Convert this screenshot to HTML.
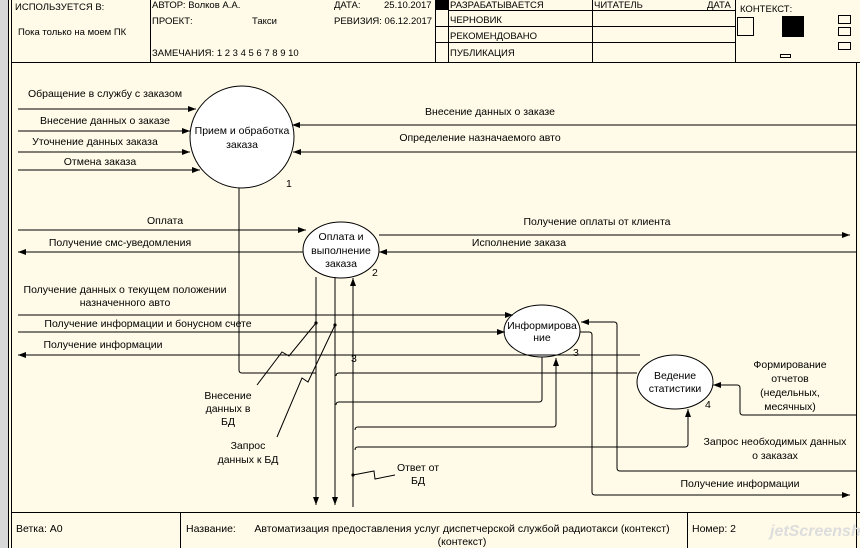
<!DOCTYPE html>
<html><head><meta charset="utf-8"><style>
body{margin:0;width:860px;height:548px;overflow:hidden;background:#fffbe8}
svg{display:block}
text{font-family:"Liberation Sans","DejaVu Sans",sans-serif;font-size:10.5px;fill:#000}
.h{font-size:9.5px}
</style></head><body>
<svg width="860" height="548" viewBox="0 0 860 548">
<defs>
<marker id="a" markerWidth="8" markerHeight="6" refX="8" refY="3" orient="auto" markerUnits="userSpaceOnUse"><path d="M0,0 L8,3 L0,6z" fill="#000"/></marker>
</defs>
<rect x="0" y="0" width="8" height="548" fill="#d8d8d8"/>
<rect x="8" y="0" width="852" height="548" fill="#fffbe8"/>
<g stroke="#000" fill="none" stroke-width="1">
<line x1="8.5" y1="0" x2="8.5" y2="548"/><line x1="11.5" y1="0" x2="11.5" y2="548"/>
<line x1="856.5" y1="62" x2="856.5" y2="548"/>
<line x1="11" y1="62.5" x2="860" y2="62.5"/>
<line x1="150.5" y1="0" x2="150.5" y2="62"/>
<line x1="435.5" y1="0" x2="435.5" y2="62"/>
<line x1="448.5" y1="0" x2="448.5" y2="62"/>
<line x1="592.5" y1="0" x2="592.5" y2="62"/>
<line x1="735.5" y1="0" x2="735.5" y2="62"/>
<line x1="448" y1="10.5" x2="735" y2="10.5"/>
<line x1="435" y1="26.5" x2="735" y2="26.5"/>
<line x1="435" y1="42.5" x2="735" y2="42.5"/>
<rect x="737.5" y="17.5" width="16" height="18"/>
<rect x="838.5" y="15.5" width="12" height="8"/><rect x="838.5" y="27.5" width="12" height="8"/><rect x="838.5" y="42.5" width="12" height="7"/>
<rect x="780.5" y="54.5" width="10" height="3"/>
<line x1="11" y1="512.5" x2="860" y2="512.5"/>
<line x1="180.5" y1="512" x2="180.5" y2="548"/>
<line x1="687.5" y1="512" x2="687.5" y2="548"/>
</g>
<rect x="435" y="0" width="13" height="10" fill="#000"/>
<rect x="782" y="16" width="22" height="21" fill="#000"/>
<g class="h">
<text x="15" y="10" class="h">ИСПОЛЬЗУЕТСЯ В:</text>
<text x="18" y="35" class="h">Пока только на моем ПК</text>
<text x="152" y="8" class="h">АВТОР: Волков А.А.</text>
<text x="334" y="8" class="h">ДАТА:</text><text x="384" y="8" class="h">25.10.2017</text>
<text x="152" y="24" class="h">ПРОЕКТ:</text><text x="252" y="24" class="h">Такси</text>
<text x="334" y="24" class="h">РЕВИЗИЯ: 06.12.2017</text>
<text x="152" y="56" class="h">ЗАМЕЧАНИЯ:  1 2 3 4 5 6 7 8 9 10</text>
<text x="450" y="8" class="h">РАЗРАБАТЫВАЕТСЯ</text>
<text x="450" y="23" class="h">ЧЕРНОВИК</text>
<text x="450" y="39" class="h">РЕКОМЕНДОВАНО</text>
<text x="450" y="56" class="h">ПУБЛИКАЦИЯ</text>
<text x="594" y="8" class="h">ЧИТАТЕЛЬ</text><text x="707" y="8" class="h">ДАТА</text>
<text x="740" y="12" class="h">КОНТЕКСТ:</text>
</g>
<g stroke="#000" fill="#fff">
<ellipse cx="242" cy="137" rx="52" ry="51"/>
<ellipse cx="341" cy="250" rx="38" ry="28"/>
<ellipse cx="542" cy="331" rx="38" ry="26"/>
<ellipse cx="675" cy="382" rx="38" ry="27"/>
</g>
<g stroke="#000" fill="none" marker-end="url(#a)">
<line x1="18" y1="109" x2="196" y2="109"/>
<line x1="18" y1="131" x2="190" y2="131"/>
<line x1="18" y1="152" x2="190" y2="152"/>
<line x1="18" y1="170" x2="200" y2="170"/>
<line x1="856" y1="125" x2="292" y2="125"/>
<line x1="856" y1="152" x2="293" y2="152"/>
<line x1="18" y1="230" x2="306" y2="230"/>
<line x1="303" y1="252" x2="18" y2="252"/>
<line x1="379" y1="235" x2="850" y2="235"/>
<line x1="856" y1="252" x2="379" y2="252"/>
<line x1="18" y1="315" x2="513" y2="315"/>
<line x1="18" y1="332" x2="505" y2="332"/>
<line x1="640" y1="355" x2="18" y2="355"/>
<line x1="316" y1="277" x2="316" y2="505"/>
<line x1="335" y1="277" x2="335" y2="505"/>
<line x1="353" y1="507" x2="353" y2="278"/>
<path d="M355 430 Q355 427 358 427 H553 Q556 427 556 424 V358"/>
<path d="M355 450 Q355 447 358 447 H685 Q688 447 688 444 V409"/>
<path d="M856 415 H743 Q740 415 740 412 V388 Q740 385 737 385 H713"/>
<path d="M856 471 H620 Q617 471 617 468 V325 Q617 322 614 322 H581"/>
<path d="M580 332 H589 Q592 332 592 335 V492 Q592 495 595 495 H850"/>
</g>
<g stroke="#000" fill="none">
<path d="M239 188 V370 Q239 373 242 373 H316"/>
<path d="M542 357 V399 Q542 402 539 402 H339 Q336 402 336 405"/>
<path d="M336 376 Q336 373 339 373 H637"/>
<path d="M257 385 L282 352 L289 356 L316 323"/>
<path d="M277 437 L302 378 L308 382 L335 325"/>
<path d="M353 475 L374 471 L375 479 L395 475"/>
</g>
<g fill="#000"><circle cx="316" cy="323" r="1.6"/><circle cx="335" cy="325" r="1.6"/><circle cx="353" cy="475" r="1.6"/></g>
<g text-anchor="middle">
<text x="105" y="97">Обращение в службу с заказом</text>
<text x="105" y="124">Внесение данных о заказе</text>
<text x="95" y="145">Уточнение данных заказа</text>
<text x="100" y="165">Отмена заказа</text>
<text x="490" y="115">Внесение данных о заказе</text>
<text x="480" y="141">Определение назначаемого авто</text>
<text x="242" y="134">Прием и обработка</text>
<text x="242" y="148">заказа</text>
<text x="165" y="224">Оплата</text>
<text x="120" y="246">Получение смс-уведомления</text>
<text x="597" y="225">Получение оплаты от клиента</text>
<text x="519" y="246">Исполнение заказа</text>
<text x="341" y="240">Оплата и</text>
<text x="341" y="254">выполнение</text>
<text x="341" y="267">заказа</text>
<text x="125" y="293">Получение данных о текущем положении</text>
<text x="125" y="306">назначенного авто</text>
<text x="148" y="327">Получение информации и бонусном счете</text>
<text x="103" y="348">Получение информации</text>
<text x="542" y="329">Информирова</text>
<text x="542" y="341">ние</text>
<text x="675" y="379">Ведение</text>
<text x="675" y="392">статистики</text>
<text x="790" y="368">Формирование</text>
<text x="790" y="382">отчетов</text>
<text x="790" y="396">(недельных,</text>
<text x="790" y="410">месячных)</text>
<text x="775" y="445">Запрос необходимых данных</text>
<text x="775" y="459">о заказах</text>
<text x="740" y="487">Получение информации</text>
<text x="228" y="399">Внесение</text>
<text x="228" y="412">данных в</text>
<text x="228" y="425">БД</text>
<text x="248" y="449">Запрос</text>
<text x="248" y="463">данных к БД</text>
<text x="418" y="471">Ответ от</text>
<text x="418" y="484">БД</text>
</g>
<text x="286" y="187">1</text><text x="372" y="276">2</text><text x="573" y="356">3</text>
<text x="351" y="362">3</text><text x="705" y="408">4</text>
<text x="16" y="532">Ветка:  А0</text>
<text x="186" y="532">Название:</text>
<text x="462" y="532" text-anchor="middle">Автоматизация предоставления услуг диспетчерской службой радиотакси (контекст)</text>
<text x="462" y="545" text-anchor="middle">(контекст)</text>
<text x="692" y="532">Номер: 2</text>
<text x="770" y="536" style="font-size:16px;font-style:italic;fill:#ddd;font-weight:bold">jetScreenshot</text>
</svg>
</body></html>
